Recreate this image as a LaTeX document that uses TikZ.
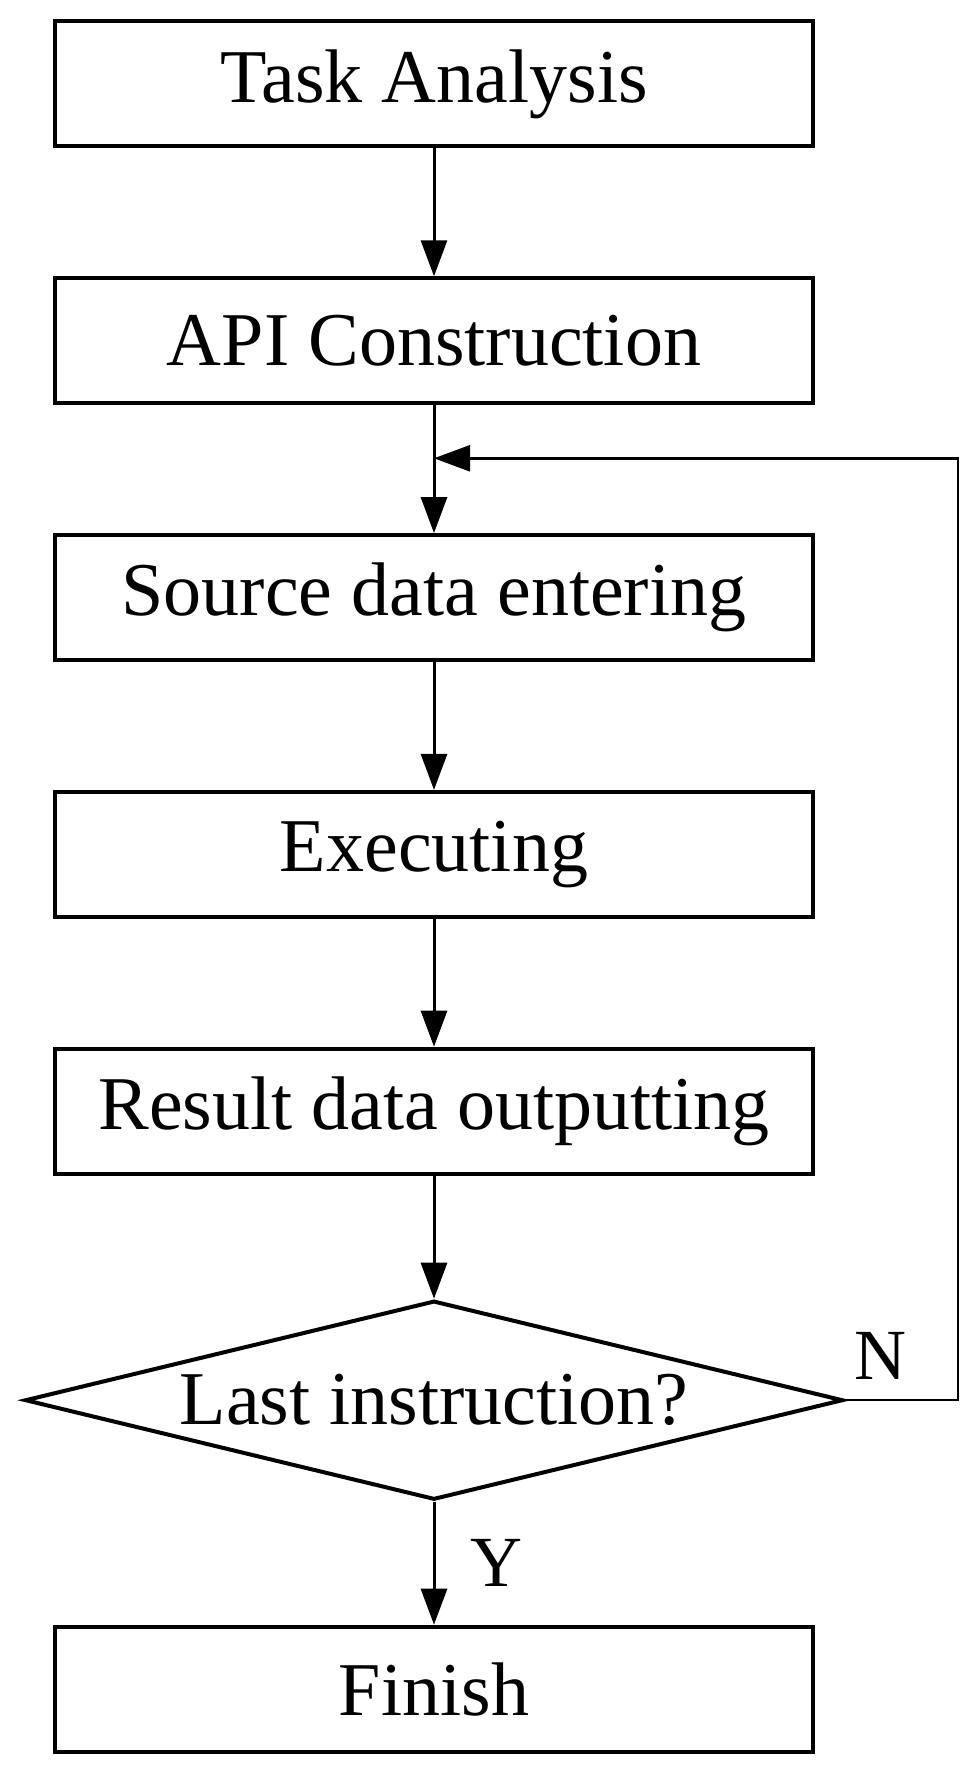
\documentclass[tikz,border=0pt]{standalone}
\usepackage{fontspec}
\setmainfont{Liberation Serif}
\usepackage{tikz}
\usetikzlibrary{arrows.meta}
\usetikzlibrary{calc}
\usetikzlibrary{positioning}
\usetikzlibrary{shapes.geometric}
\tikzset{
    arrow/.style={-{Triangle[length=18pt,width=13pt]}, line width=1.5pt},
    box/.style = {
      rectangle,
      draw,
      line width=2pt,
      minimum width=379pt,
      minimum height=62.5pt,
      font=\fontsize{38pt}{44pt}\selectfont
    },
    decision/.style = {
      diamond,
      draw,
      line width=2pt,
      aspect=4.17,
      inner sep=0pt,
      minimum width=409pt,
      minimum height=99.5pt,
      font=\fontsize{38pt}{44pt}\selectfont
    },
    tag/.style = {
      font=\fontsize{36pt}{42pt}\selectfont
    },
}

\begin{document}
\begin{tikzpicture}[
        node distance=63.9pt
      ]
        \useasboundingbox (-217pt,42pt) rectangle (270.5pt,-843pt);

        \node[box] (task) {Task Analysis};
        \node[box, below=of task] (api) {API Construction};
        \node[box, below=of api] (source) {Source data entering};
        \node[box, below=of source] (exec) {Executing};
        \node[box, below=of exec] (result) {Result data outputting};
        \node[decision, below=61.5pt of result] (check) {Last instruction?};
        \node[box, below=61.5pt of check] (finish) {Finish};

        \coordinate (loop) at ($(api.south)+(0,-26.5pt)$);

        \draw[arrow] (task) -- (api);
        \draw[arrow] (api) -- (source);
        \draw[arrow] (source) -- (exec);
        \draw[arrow] (exec) -- (result);
        \draw[arrow] (result) -- (check);
        \draw[arrow] (check) -- node[tag, right=14pt] {Y} (finish);

        % loop back when not the last instruction
        \draw[arrow, line width=1.25pt] (check.east) -- ++(56.5pt,0) coordinate (turn)
          |- (loop);
        \node[tag, above left=7pt and 22pt of turn] {N};
      \end{tikzpicture}
\end{document}
